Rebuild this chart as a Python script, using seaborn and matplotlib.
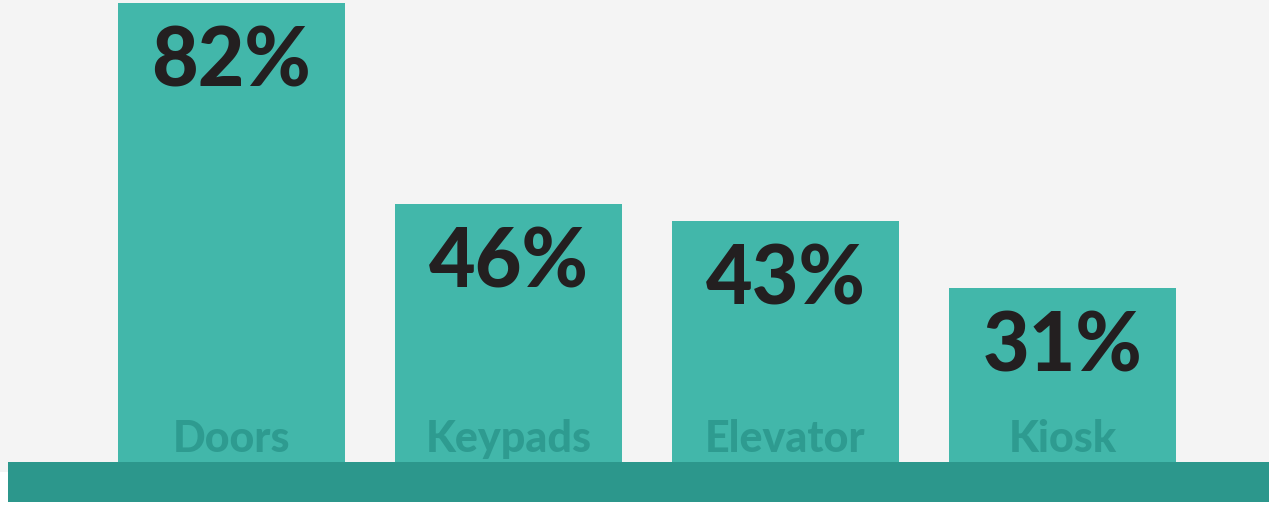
import matplotlib
matplotlib.use("Agg")
import matplotlib.pyplot as plt
import seaborn as sns
import pandas as pd

# datos
categorias = ["Doors", "Keypads", "Elevator", "Kiosk"]
porcentajes = [82, 46, 43, 31]

df = pd.DataFrame({"categoria": categorias, "pct": porcentajes})

sns.set_theme(style="white")
plt.rcParams["font.family"] = ["Lato", "DejaVu Sans"]

COLOR_BARRA = "#42b7aa"
COLOR_BANDA = "#2c978c"
COLOR_ETIQ = "#2e9b90"
COLOR_TEXTO = "#231f20"
FONDO = "#f4f4f4"

fig = plt.figure(figsize=(12.69, 5.24), dpi=100)
fig.patch.set_facecolor("white")
ax = fig.add_axes([0, 0, 1, 1])
ax.set_facecolor("white")

# escala: ~5.6 px por punto, base en el pixel 462
px = 5.6
xmin, xmax = -231.5 / 277, (1269 - 231.5) / 277
ax.set_xlim(xmin, xmax)
ax.set_ylim(-(524 - 462) / px, 462 / px)

# fondo gris y banda inferior
ax.axhspan(-10 / px, 462 / px, color=FONDO, zorder=0, lw=0)
ax.fill_between([xmin + 8 / 277, 4], -40 / px, 0, color=COLOR_BANDA, zorder=3, lw=0)

sns.barplot(data=df, x="categoria", y="pct", color=COLOR_BARRA,
            width=0.82, saturation=1, linewidth=0, ax=ax, zorder=2)

for i, (cat, v) in enumerate(zip(categorias, porcentajes)):
    ax.text(i, v - 60 / px, f"{v}%", ha="center", va="center",
            fontsize=58, fontweight="black", color=COLOR_TEXTO, zorder=4)
    ax.text(i, 10 / px, cat, ha="center", va="baseline",
            fontsize=31, fontweight="black", color=COLOR_ETIQ, zorder=4)

ax.set_xlim(xmin, xmax)
ax.set_axis_off()

plt.savefig("out.png", dpi=100, facecolor="white")
